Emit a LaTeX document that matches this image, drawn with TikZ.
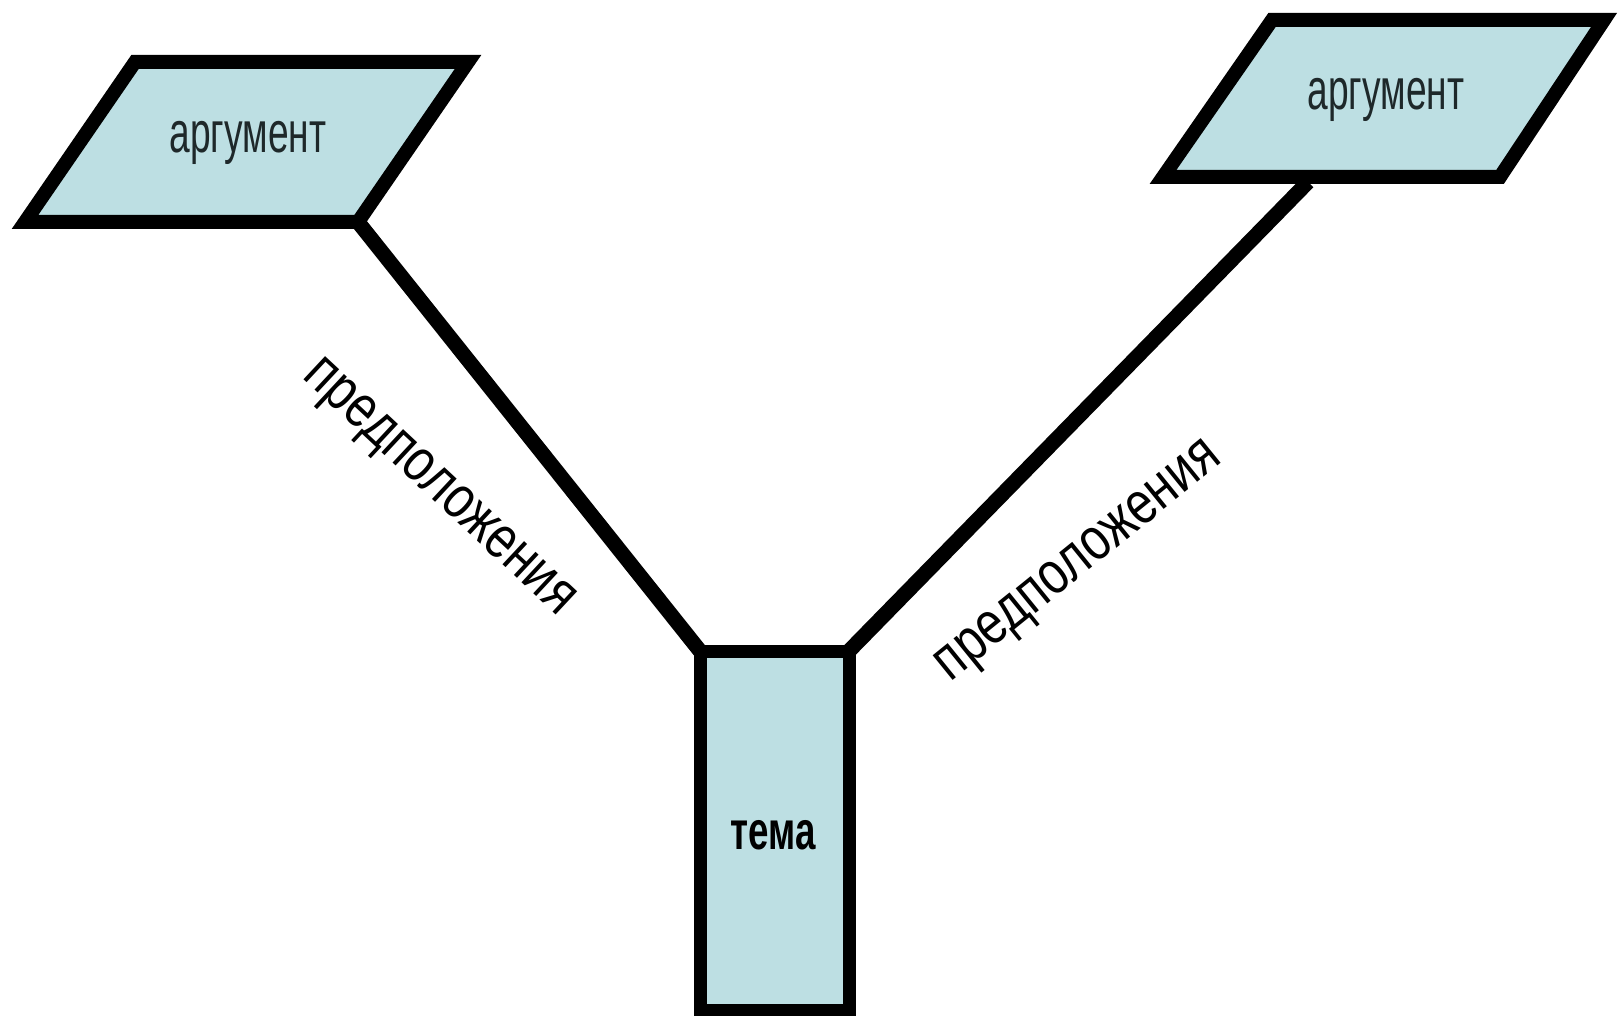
\documentclass[tikz,border=0pt]{standalone}
\usepackage{fontspec}
\usepackage{graphicx}
\setmainfont{Liberation Sans}
\definecolor{boxfill}{RGB}{189,223,227}
\definecolor{txt}{RGB}{30,40,42}
\begin{document}
\begin{tikzpicture}[x=1pt,y=-1pt,
  shapeline/.style={draw=black,line width=14pt,line join=miter,fill=boxfill},
  conn/.style={draw=black,line width=15pt},
  argtext/.style={text=txt,font=\fontsize{58}{60}\selectfont,inner sep=0pt},
  lbltext/.style={text=black,font=\fontsize{60}{62}\selectfont,inner sep=0pt}]
\useasboundingbox (0,0) rectangle (1618,1016);
\fill[white] (0,0) rectangle (1618,1016);
% left argument
\coordinate (lTL) at (135,62);
\coordinate (lTR) at (468,62);
\coordinate (lBR) at (358,222);
\coordinate (lBL) at (25,222);
% right argument
\coordinate (rTL) at (1272,20);
\coordinate (rTR) at (1604,20);
\coordinate (rBR) at (1500,177);
\coordinate (rBL) at (1163,177);
\coordinate (rAnchor) at (1308,182);
% theme box
\coordinate (tTL) at (700,651);
\coordinate (tTR) at (849,651);
\coordinate (tBR) at (849,1010);
\coordinate (tBL) at (700,1010);
% connectors
\draw[conn] (lBR) -- (tTL);
\draw[conn] (rAnchor) -- (tTR);
% shapes
\path[shapeline] (lTL) -- (lTR) -- (lBR) -- (lBL) -- cycle;
\path[shapeline] (rTL) -- (rTR) -- (rBR) -- (rBL) -- cycle;
\path[shapeline,line width=13pt] (tTL) -- (tTR) -- (tBR) -- (tBL) -- cycle;
% texts
\node[argtext] (argL) at (248,143) {\scalebox{0.64}[1]{аргумент}};
\node[argtext] (argR) at (1386,100) {\scalebox{0.64}[1]{аргумент}};
\node[text=black,font=\fontsize{54}{56}\selectfont\bfseries,inner sep=0pt] (tema) at (773,835) {\scalebox{0.68}[1]{тема}};
\node[lbltext,rotate=-43] (predL) at (437,490) {\scalebox{0.8}[1]{предположения}};
\node[lbltext,rotate=39] (predR) at (1081,564) {\scalebox{0.8}[1]{предположения}};
\end{tikzpicture}
\end{document}
